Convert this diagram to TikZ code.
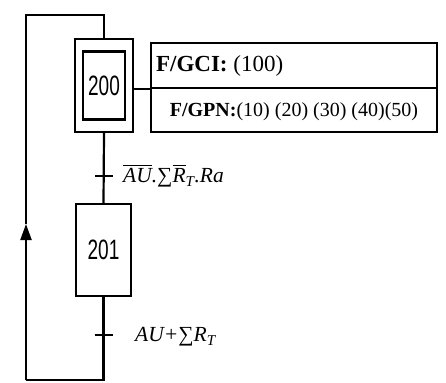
\documentclass[tikz,border=0pt]{standalone}
\usepackage{fix-cm}
\usepackage{amsmath}
\usepackage{fontspec}
\setmainfont{Liberation Serif}
\newfontfamily\stepfont{Liberation Sans}
\usetikzlibrary{positioning,calc,arrows.meta}

\newcommand{\barre}[1]{$\overline{\hbox{#1}}$}

\begin{document}
\begin{tikzpicture}[x=1pt,y=-1pt]
	\tikzstyle{etape}=[draw, rectangle, line width=2.2pt, fill=white, inner sep=0pt];
	\tikzstyle{action}=[draw, rectangle, line width=2.2pt, minimum width=286pt, inner sep=0pt];
	\tikzstyle{lien}=[line width=2.2pt];
	\tikzstyle{recept}=[anchor=west, font=\fontsize{21.5}{21.5}\selectfont\itshape, inner sep=0pt];
	\useasboundingbox (0,0) rectangle (446,382);

	% etape initiale 200
	\node[etape, minimum width=58pt, minimum height=93pt] (e200) at (104,85.5) {};
	\node[etape, minimum width=42pt, minimum height=68pt, font=\stepfont\fontsize{28}{28}\selectfont] (e200i) at (e200) {\scalebox{0.68}[1]{200}};

	% actions
	\node[action, minimum height=45pt] (gci) at (294,65.5) {};
	\node[action, minimum height=44pt] (gpn) at (294,110) {};
	\node[anchor=west, inner sep=0pt, font=\fontsize{23}{23}\selectfont] (t_gci) at ($(gci.west)+(6pt,0pt)$) {\textbf{F/GCI:} (100)};
	\node[inner sep=0pt, font=\fontsize{20}{20}\selectfont] (t_gpn) at ($(gpn)+(0pt,-2pt)$) {\textbf{F/GPN:}(10) (20) (30) (40)(50)};
	\draw[lien] (gci.south west) -- (gci.south west -| e200.east);

	% etape 201
	\node[etape, minimum width=55pt, minimum height=92pt, font=\stepfont\fontsize{28}{28}\selectfont] (e201) at (103.5,250) {\scalebox{0.68}[1]{201}};

	% transitions
	\coordinate (tr1) at (e200.south |- 0,176);
	\coordinate (tr2) at (e201.south |- 0,335);
	\draw[lien] (e200.south) -- (e201.north);
	\draw[lien] ($(tr1)+(-9pt,0pt)$) -- ($(tr1)+(9pt,0pt)$);
	\draw[lien] ($(tr2)+(-9pt,0pt)$) -- ($(tr2)+(9pt,0pt)$);
	\node[recept] (r1) at (123,176) {\barre{AU}.∑\barre{R}\textsubscript{T}.Ra};
	\node[recept] (r2) at (135,337) {AU+∑R\textsubscript{T}};

	% retour
	\coordinate (bas) at (e201.south |- 0,380);
	\coordinate (coin_bas) at (26,380);
	\coordinate (fleche) at (26,224);
	\coordinate (coin_haut) at (26,15);
	\draw[lien] (e201.south) -- (bas) -- (coin_bas);
	\draw[lien, -{Triangle[length=16pt,width=11pt]}] (coin_bas) -- (fleche);
	\draw[lien] (fleche) -- (coin_haut) -| (e200.north);
\end{tikzpicture}
\end{document}
